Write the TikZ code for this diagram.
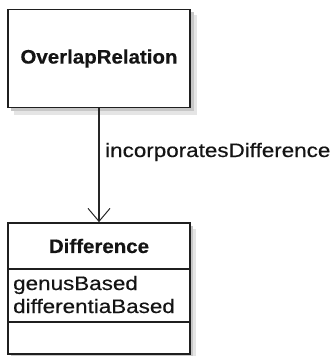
\documentclass[tikz,border=0pt]{standalone}
\usepackage{fontspec}
\usetikzlibrary{arrows.meta}
\newfontfamily\umlreg[FakeStretch=1.15,FakeBold=0.4]{Liberation Sans}
\newfontfamily\umlbold[FakeStretch=1.05,FakeBold=0.4]{Liberation Sans Bold}
\begin{document}
\begin{tikzpicture}[x=1bp,y=-1bp,
  classbox/.style={draw=black!88, line width=1.7bp, fill=white, inner sep=0pt},
  shadowA/.style={fill=black!10, draw=none},
  shadowB/.style={fill=black!22, draw=none},
  divider/.style={draw=black!88, line width=1.7bp},
  boldtext/.style={font=\umlbold\fontsize{19.5bp}{22bp}\selectfont, text=black!92, inner sep=0pt},
  regtext/.style={font=\umlreg\fontsize{19.5bp}{22bp}\selectfont, text=black!92, inner sep=0pt, anchor=base west},
  assoc/.style={draw=black!85, line width=1.5bp,
    -{Straight Barb[length=13bp,width=22bp,line width=1bp]}}]
  \useasboundingbox (0,0) rectangle (333,356);

  % soft drop shadows of the two classes
  \fill[shadowA] (14,15) rectangle (197,115);
  \fill[shadowB] (11,12) rectangle (194,111);
  \fill[shadowA] (14,229) rectangle (196,356);
  \fill[shadowB] (11,226) rectangle (193,356);

  % class OverlapRelation
  \node[classbox, minimum width=182bp, minimum height=98bp] (overlap) at (99,58.5) {};
  \node[boldtext] (overlapname) at (overlap.center) {OverlapRelation};

  % class Difference with its compartments
  \node[classbox, minimum width=182bp, minimum height=131bp] (difference) at (99,288.5) {};
  \coordinate (divAw) at (8,269);
  \coordinate (divAe) at (190,269);
  \coordinate (divBw) at (8,322);
  \coordinate (divBe) at (190,322);
  \draw[divider] (divAw) -- (divAe);
  \draw[divider] (divBw) -- (divBe);
  \node[boldtext] (diffname) at (99,246) {Difference};
  \node[regtext] (attrA) at (13,290) {genusBased};
  \node[regtext] (attrB) at (13,313) {differentiaBased};

  % association
  \draw[assoc] (overlap.south) -- (difference.north);
  \node[regtext] (assocname) at (105,157) {incorporatesDifference};
\end{tikzpicture}
\end{document}
